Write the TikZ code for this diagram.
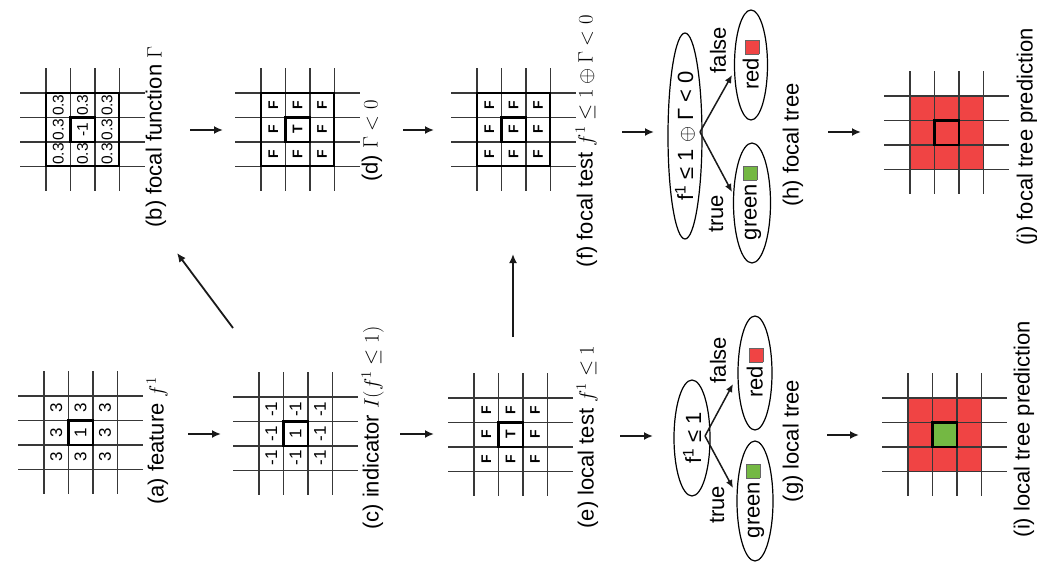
\documentclass[tikz,border=0pt]{standalone}
\usepackage{fontspec}
\setmainfont{Liberation Sans}
\usetikzlibrary{arrows.meta,shapes.geometric}
\definecolor{pred}{HTML}{F04444}
\definecolor{pgreen}{HTML}{74B843}
\tikzset{
  gridline/.style={line width=1.4pt,black!78},
  thickbox/.style={line width=2.3pt,black},
  celltext/.style={rotate=90,inner sep=0pt,font=\fontsize{17}{17}\selectfont},
  smalltext/.style={rotate=90,inner sep=0pt,font=\fontsize{15.5}{16}\selectfont},
  ftext/.style={rotate=90,inner sep=0pt,font=\fontsize{14}{14}\selectfont\bfseries},
  caption/.style={rotate=90,inner sep=0pt,text height=16pt,text depth=5pt,font=\fontsize{22}{26}\selectfont},
  flow/.style={line width=1.8pt,black!90,-{Latex[length=9pt,width=8pt]}},
  branch/.style={line width=1.5pt,black!90,-{Latex[length=8pt,width=7pt]}},
  treenode/.style={ellipse,draw,line width=1.2pt,rotate=90,inner sep=0pt,font=\fontsize{22}{26}\selectfont},
  edgelabel/.style={rotate=90,inner sep=0pt,font=\fontsize{22}{26}\selectfont},
}
\newcommand\drawgrid[2]{%
  \foreach \k in {0,1,2,3}{%
    \draw[gridline] ({#1-26},{#2+\k*24.4}) -- ({#1+73.2+26},{#2+\k*24.4});
    \draw[gridline] ({#1+\k*24.4},{#2-25}) -- ({#1+\k*24.4},{#2+73.2+25});
  }}
\newcommand\cellvals[6]{% x0, y0, style, outer text, centre text, name prefix
  \foreach \i/\j in {0/0,0/1,0/2,1/0,1/2,2/0,2/1,2/2}{%
    \node[#3] (#6\i\j) at ({#1+12.2+\i*24.4},{#2+12.2+\j*24.4}) {#4};
  }
  \node[#3] (#6c) at ({#1+36.6},{#2+36.6}) {#5};}
\newcommand\centrebox[2]{\draw[thickbox] ({#1+24.4},{#2+24.4}) rectangle ({#1+48.8},{#2+48.8});}
\newcommand\outerbox[2]{\draw[thickbox] (#1,#2) rectangle ({#1+73.2},{#2+73.2});}
\newcommand\swatch[1]{{\setlength\fboxsep{0pt}\setlength\fboxrule{0.6pt}\fcolorbox{black!60}{#1}{\rule{0pt}{13pt}\rule{13pt}{0pt}}}}
\begin{document}
\begin{tikzpicture}[x=1pt,y=-1pt]
\useasboundingbox (0,0) rectangle (1037,568);

% (a) feature
\drawgrid{44}{396}
\cellvals{44}{396}{celltext}{3}{1}{a}
\centrebox{44}{396}
\node[caption] (capa) at (158,441) {(a) feature $f^1$};

% (b) focal function
\drawgrid{46}{93}
\cellvals{46}{93}{smalltext}{0.3}{-1}{b}
\outerbox{46}{93}
\centrebox{46}{93}
\node[caption] (capb) at (156,137) {(b) focal function $\Gamma$};

% (c) indicator
\drawgrid{259}{397}
\cellvals{259}{397}{celltext}{-1}{1}{c}
\centrebox{259}{397}
\node[caption] (capc) at (373,428) {(c) indicator $I(f^1\leq 1)$};

% (d) Gamma < 0
\drawgrid{261}{93}
\cellvals{261}{93}{ftext}{F}{T}{d}
\outerbox{261}{93}
\centrebox{261}{93}
\node[caption] (capd) at (372,141) {(d) $\Gamma<0$};

% (e) local test
\drawgrid{474}{398}
\cellvals{474}{398}{ftext}{F}{T}{e}
\centrebox{474}{398}
\node[caption] (cape) at (588,437) {(e) local test $f^1\leq 1$};

% (f) focal test
\drawgrid{477}{93}
\cellvals{477}{93}{ftext}{F}{F}{f}
\outerbox{477}{93}
\centrebox{477}{93}
\node[caption] (capf) at (587,141) {(f) focal test $f^1\leq 1\oplus\Gamma<0$};

% (g) local tree
\node[treenode,minimum width=116pt,minimum height=36pt] (groot) at (692,438) {f\textsuperscript{1} ≤ 1};
\node[treenode,minimum width=120pt,minimum height=36pt] (ggreen) at (755,501) {green\,\swatch{pgreen}};
\node[treenode,minimum width=114pt,minimum height=34pt] (gred) at (755,373) {red\,\swatch{pred}};
\coordinate (gs) at (705,436);
\coordinate (gt) at (733,488);
\coordinate (gf) at (733,384);
\draw[branch] (gs) -- (gt);
\draw[branch] (gs) -- (gf);
\node[edgelabel] (gtrue) at (717,505) {true};
\node[edgelabel] (gfalse) at (718,360) {false};
\node[caption] (capg) at (793,441) {(g) local tree};

% (h) focal tree
\node[treenode,minimum width=206pt,minimum height=34pt] (hroot) at (685,136) {f\textsuperscript{1} ≤ 1 $\oplus$ Γ < 0};
\node[treenode,minimum width=120pt,minimum height=37pt] (hgreen) at (752,203) {green\,\swatch{pgreen}};
\node[treenode,minimum width=110pt,minimum height=33pt] (hred) at (751,65) {red\,\swatch{pred}};
\coordinate (hs) at (700,132);
\coordinate (ht) at (732,192);
\coordinate (hf) at (732,75);
\draw[branch] (hs) -- (ht);
\draw[branch] (hs) -- (hf);
\node[edgelabel] (htrue) at (716,214) {true};
\node[edgelabel] (hfalse) at (718,50) {false};
\node[caption] (caph) at (793,145) {(h) focal tree};

% (i) local tree prediction
\fill[pred] (908,398) rectangle ({908+73.2},{398+73.2});
\fill[pgreen] ({908+24.4},{398+24.4}) rectangle ({908+48.8},{398+48.8});
\drawgrid{908}{398}
\centrebox{908}{398}
\node[caption] (capi) at (1024,429) {(i) local tree prediction};

% (j) focal tree prediction
\fill[pred] (910,96) rectangle ({910+73.2},{96+73.2});
\drawgrid{910}{96}
\centrebox{910}{96}
\node[caption] (capj) at (1027,137) {(j) focal tree prediction};

% flow arrows
\coordinate (a1) at (188,434); \coordinate (c0) at (221,434);
\coordinate (b1) at (190,130); \coordinate (d0) at (223,130);
\coordinate (c2) at (233,328); \coordinate (b2) at (177,253);
\coordinate (c1) at (400,434); \coordinate (e0) at (434,434);
\coordinate (d1) at (403,130); \coordinate (f0) at (434,130);
\coordinate (e2) at (513,337); \coordinate (f2) at (513,254);
\coordinate (f1) at (622,132); \coordinate (h0) at (654,132);
\coordinate (e1) at (620,436); \coordinate (g0) at (653,436);
\coordinate (h1) at (828,132); \coordinate (j0) at (861,132);
\coordinate (g1) at (827,435); \coordinate (i0) at (859,435);
\draw[flow] (a1) -- (c0);
\draw[flow] (b1) -- (d0);
\draw[flow] (c2) -- (b2);
\draw[flow] (c1) -- (e0);
\draw[flow] (d1) -- (f0);
\draw[flow] (e2) -- (f2);
\draw[flow] (f1) -- (h0);
\draw[flow] (e1) -- (g0);
\draw[flow] (h1) -- (j0);
\draw[flow] (g1) -- (i0);
\end{tikzpicture}
\end{document}
